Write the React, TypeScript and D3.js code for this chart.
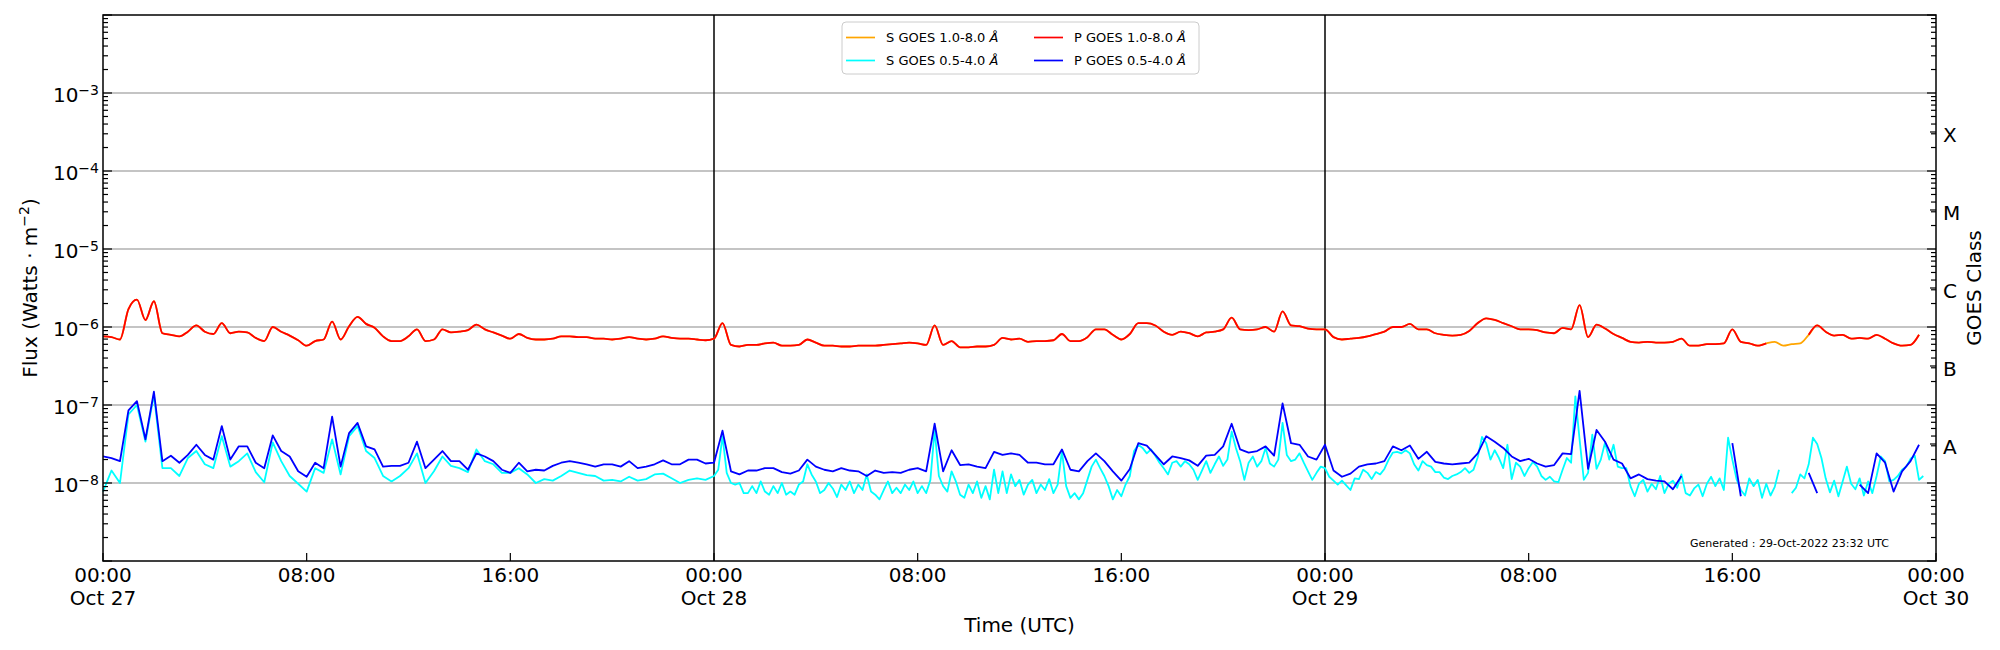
import React, { useEffect, useRef } from 'react'
import * as d3 from 'd3'

// log10 of the flux (W/m^2), starting at 00:00 UTC of each day.
// long channel and primary short channel: one value every 20 minutes
const pLongOct27 = [
    -6.12, -6.13, -6.16, -5.77, -5.65, -5.91, -5.67, -6.08, -6.10, -6.12,
    -6.06, -5.98, -6.06, -6.09, -5.95, -6.08, -6.06, -6.07, -6.14, -6.18,
    -6.00, -6.06, -6.11, -6.17, -6.24, -6.18, -6.16, -5.93, -6.16, -5.99,
    -5.87, -5.96, -6.01, -6.12, -6.18, -6.18, -6.12, -6.03, -6.18, -6.16,
    -6.03, -6.07, -6.06, -6.04, -5.97, -6.03, -6.07, -6.11, -6.15, -6.09,
    -6.14, -6.16, -6.16, -6.15, -6.12, -6.12, -6.13, -6.13, -6.15, -6.15,
    -6.16, -6.15, -6.13, -6.15, -6.16, -6.15, -6.12, -6.14, -6.15, -6.15,
    -6.16, -6.17,
]
const pLongOct28 = [
    -6.15, -5.95, -6.23, -6.25, -6.23, -6.23, -6.21, -6.20, -6.24, -6.24,
    -6.23, -6.16, -6.20, -6.24, -6.24, -6.25, -6.25, -6.24, -6.24, -6.24,
    -6.23, -6.22, -6.21, -6.20, -6.21, -6.23, -5.98, -6.23, -6.18, -6.26,
    -6.26, -6.25, -6.25, -6.23, -6.14, -6.16, -6.15, -6.19, -6.18, -6.18,
    -6.17, -6.09, -6.18, -6.18, -6.13, -6.03, -6.03, -6.10, -6.16, -6.09,
    -5.95, -5.95, -5.98, -6.06, -6.10, -6.06, -6.08, -6.12, -6.07, -6.06,
    -6.03, -5.88, -6.03, -6.04, -6.03, -6.00, -6.06, -5.80, -5.98, -5.99,
    -6.02, -6.03,
]
const pLongOct29 = [
    -6.03, -6.13, -6.16, -6.15, -6.14, -6.12, -6.09, -6.06, -6.00, -6.00,
    -5.96, -6.03, -6.03, -6.08, -6.10, -6.11, -6.10, -6.05, -5.95, -5.89,
    -5.91, -5.95, -5.99, -6.03, -6.03, -6.04, -6.07, -6.08, -6.01, -6.03,
    -5.72, -6.13, -5.97, -6.02, -6.09, -6.14, -6.19, -6.20, -6.19, -6.20,
    -6.20, -6.19, -6.15, -6.24, -6.24, -6.22, -6.22, -6.21, -6.03, -6.19,
    -6.21, -6.24, -6.21, null, null, null, null, -6.10, -5.98, -6.06,
    -6.11, -6.10, -6.15, -6.14, -6.15, -6.10, -6.15, -6.21, -6.24, -6.23,
    -6.10,
]
// secondary 1-8 A follows the primary, except where the primary is missing on Oct 29
const sLongOct29GapStart = 53
const sLongOct29Gap = [-6.19, -6.24, -6.22, -6.21]

const pShortOct27 = [
    -7.66, -7.68, -7.72, -7.07, -6.95, -7.44, -6.83, -7.72, -7.65, -7.74,
    -7.64, -7.51, -7.64, -7.70, -7.27, -7.70, -7.53, -7.53, -7.74, -7.81,
    -7.39, -7.59, -7.66, -7.85, -7.92, -7.74, -7.81, -7.15, -7.79, -7.36,
    -7.23, -7.53, -7.57, -7.79, -7.78, -7.78, -7.74, -7.47, -7.81, -7.70,
    -7.59, -7.72, -7.72, -7.83, -7.62, -7.66, -7.72, -7.83, -7.87, -7.74,
    -7.85, -7.83, -7.84, -7.78, -7.74, -7.72, -7.74, -7.76, -7.79, -7.76,
    -7.76, -7.79, -7.72, -7.81, -7.79, -7.76, -7.71, -7.76, -7.76, -7.70,
    -7.70, -7.75,
]
const pShortOct28 = [
    -7.74, -7.33, -7.85, -7.89, -7.84, -7.84, -7.81, -7.81, -7.86, -7.88,
    -7.84, -7.70, -7.79, -7.83, -7.85, -7.81, -7.84, -7.85, -7.91, -7.84,
    -7.87, -7.86, -7.87, -7.83, -7.81, -7.85, -7.24, -7.85, -7.58, -7.77,
    -7.76, -7.79, -7.81, -7.60, -7.64, -7.62, -7.64, -7.74, -7.74, -7.76,
    -7.76, -7.57, -7.83, -7.85, -7.72, -7.62, -7.72, -7.85, -7.97, -7.82,
    -7.49, -7.52, -7.64, -7.76, -7.66, -7.68, -7.71, -7.78, -7.65, -7.64,
    -7.53, -7.24, -7.57, -7.61, -7.59, -7.53, -7.65, -6.98, -7.49, -7.51,
    -7.66, -7.70,
]
const pShortOct29 = [
    -7.51, -7.84, -7.92, -7.88, -7.79, -7.76, -7.75, -7.72, -7.53, -7.58,
    -7.52, -7.69, -7.60, -7.73, -7.75, -7.76, -7.75, -7.74, -7.62, -7.40,
    -7.47, -7.55, -7.66, -7.72, -7.69, -7.75, -7.79, -7.77, -7.62, -7.63,
    -6.82, -7.82, -7.32, -7.47, -7.70, -7.75, -7.94, -7.89, -7.95, -7.97,
    -7.98, -8.08, -7.91, null, null, null, null, null, -7.49, -8.17,
    null, null, null, null, null, null, null, -7.87, -8.13, null,
    null, null, null, -8.02, -8.13, -7.62, -7.74, -8.11, -7.85, -7.72,
    -7.51,
]

// secondary short channel: every 20 minutes on Oct 27, every 10 minutes after
const sShortOct27 = [
    -8.11, -7.84, -8.00, -7.12, -7.00, -7.47, -6.87, -7.81, -7.81, -7.91,
    -7.68, -7.59, -7.76, -7.81, -7.40, -7.79, -7.72, -7.62, -7.86, -7.99,
    -7.48, -7.72, -7.91, -8.01, -8.11, -7.81, -7.87, -7.44, -7.89, -7.40,
    -7.27, -7.59, -7.68, -7.91, -7.98, -7.91, -7.81, -7.62, -8.00, -7.85,
    -7.66, -7.78, -7.81, -7.86, -7.57, -7.72, -7.76, -7.87, -7.87, -7.81,
    -7.89, -8.00, -7.95, -7.97, -7.91, -7.84, -7.87, -7.90, -7.91, -7.97,
    -7.96, -7.98, -7.92, -7.97, -7.95, -7.89, -7.88, -7.94, -8.00, -7.96,
    -7.94, -7.96,
]
const sShortOct28 = [
    -7.91, -7.83, -7.40, -7.87, -8.00, -8.02, -8.00, -8.13, -8.13, -8.04,
    -8.13, -7.98, -8.11, -8.15, -8.04, -8.13, -8.00, -8.15, -8.11, -8.15,
    -8.02, -7.98, -7.76, -7.89, -7.98, -8.13, -8.09, -8.00, -8.07, -8.18,
    -8.02, -8.09, -7.98, -8.13, -8.02, -8.09, -7.89, -8.11, -8.15, -8.21,
    -8.09, -7.98, -8.13, -8.06, -8.13, -8.02, -8.09, -7.98, -8.13, -8.04,
    -8.13, -7.96, -7.32, -7.91, -8.04, -8.11, -7.85, -7.98, -8.15, -8.19,
    -8.02, -8.13, -7.98, -8.19, -8.04, -8.21, -7.83, -8.13, -7.85, -8.13,
    -7.89, -8.04, -7.96, -8.15, -8.02, -7.96, -8.13, -8.02, -8.09, -7.95,
    -8.13, -8.02, -7.59, -8.04, -8.19, -8.13, -8.21, -8.13, -7.96, -7.79,
    -7.70, -7.81, -7.91, -8.04, -8.21, -8.09, -8.17, -8.02, -7.91, -7.59,
    -7.51, -7.55, -7.62, -7.57, -7.65, -7.74, -7.81, -7.89, -7.74, -7.72,
    -7.79, -7.72, -7.76, -7.83, -7.96, -7.84, -7.72, -7.87, -7.76, -7.66,
    -7.78, -7.70, -7.34, -7.55, -7.72, -7.96, -7.74, -7.66, -7.79, -7.72,
    -7.55, -7.75, -7.79, -7.70, -7.23, -7.64, -7.72, -7.70, -7.62, -7.74,
    -7.85, -7.96, -7.87, -7.79,
]
const sShortOct29 = [
    -7.81, -7.92, -7.97, -8.02, -7.97, -8.03, -8.09, -7.94, -7.95, -7.83,
    -7.87, -7.95, -7.86, -7.89, -7.82, -7.70, -7.61, -7.60, -7.62, -7.58,
    -7.62, -7.76, -7.84, -7.72, -7.77, -7.79, -7.86, -7.86, -7.93, -7.95,
    -7.91, -7.89, -7.86, -7.81, -7.87, -7.83, -7.67, -7.41, -7.49, -7.70,
    -7.58, -7.68, -7.81, -7.51, -7.95, -7.74, -7.79, -7.91, -7.81, -7.73,
    -7.79, -7.91, -7.96, -7.92, -7.98, -7.99, -7.83, -7.68, -7.74, -6.89,
    -7.44, -7.96, -7.87, -7.38, -7.82, -7.70, -7.48, -7.70, -7.51, -7.79,
    -7.81, -7.81, -8.04, -8.17, -8.01, -7.96, -8.11, -8.01, -8.08, -7.91,
    -8.13, -8.01, -7.97, -8.06, -7.89, -8.13, -8.16, -8.07, -8.02, -8.17,
    -8.01, -7.92, -8.04, -7.94, -8.09, -7.42, -7.70, -7.95, -8.09, -8.16,
    -7.94, -8.04, -7.96, -8.19, -8.01, -8.16, -8.05, -7.83, null, null,
    -8.13, -8.06, -7.89, -7.94, -7.76, -7.42, -7.50, -7.68, -7.94, -8.12,
    -7.97, -8.17, -7.98, -7.79, -8.01, -8.08, -7.94, -8.16, -7.98, -8.13,
    -7.91, -7.66, -7.72, -7.98, -7.96, -7.91, -7.83, -7.79, -7.69, -7.65,
    -7.96, -7.91,
]

const legendLabels = [
    { text: 'S GOES 1.0-8.0 ', color: '#ffa500' },
    { text: 'S GOES 0.5-4.0 ', color: '#00ffff' },
    { text: 'P GOES 1.0-8.0 ', color: '#ff0000' },
    { text: 'P GOES 0.5-4.0 ', color: '#0000ff' },
]
const yLabelExps = [-8, -7, -6, -5, -4, -3]
const goesClasses = ['A', 'B', 'C', 'M', 'X']
const goesClassExps = [-7.5, -6.5, -5.5, -4.5, -3.5]
const generatedText = 'Generated : 29-Oct-2022 23:32 UTC'

const MIN = 60 * 1000
const DAY = 24 * 60 * MIN
const T0 = Date.UTC(2022, 9, 27)
const T1 = Date.UTC(2022, 9, 30)
const FONT = '"DejaVu Sans", sans-serif'

type Pt = { t: Date; f: number | null }

// days: list of [values, step in minutes], one per day from Oct 27
const toPoints = (days: [(number | null)[], number][]): Pt[] =>
    days.flatMap(([vals, step], d) =>
        vals.map((v, i) => ({
            t: new Date(T0 + d * DAY + i * step * MIN),
            f: v === null ? null : Math.pow(10, v),
        }))
    )

const GoesChart: React.FC = () => {
    const svgRef = useRef<SVGSVGElement | null>(null)

    useEffect(() => {
        if (!svgRef.current) return
        const width = 2000
        const height = 650
        const left = 103
        const right = 1936
        const top = 15
        const bottom = 561

        const svg = d3.select(svgRef.current)
        svg.selectAll('*').remove()

        const x = d3.scaleUtc().domain([new Date(T0), new Date(T1)]).range([left, right])
        const y = d3.scaleLog().domain([1e-9, 1e-2]).range([bottom, top])

        const sLongOct29 = pLongOct29.map((v, i) => {
            if (v !== null) return v
            const g = sLongOct29Gap[i - sLongOct29GapStart]
            return g === undefined ? null : g
        })

        const pLongPts = toPoints([[pLongOct27, 20], [pLongOct28, 20], [pLongOct29, 20]])
        const sLongPts = toPoints([[pLongOct27, 20], [pLongOct28, 20], [sLongOct29, 20]])
        const pShortPts = toPoints([[pShortOct27, 20], [pShortOct28, 20], [pShortOct29, 20]])
        const sShortPts = toPoints([[sShortOct27, 20], [sShortOct28, 10], [sShortOct29, 10]])

        svg.attr('viewBox', `0 0 ${width} ${height}`)
        svg.append('rect').attr('width', width).attr('height', height).attr('fill', 'white')

        // grid
        yLabelExps.forEach((k) => {
            svg.append('line')
                .attr('x1', left).attr('x2', right)
                .attr('y1', y(Math.pow(10, k))).attr('y2', y(Math.pow(10, k)))
                .attr('stroke', '#b0b0b0').attr('stroke-width', 1.3)
        })

        // day boundaries
        ;[Date.UTC(2022, 9, 28), Date.UTC(2022, 9, 29)].forEach((d) => {
            svg.append('line')
                .attr('x1', x(new Date(d))).attr('x2', x(new Date(d)))
                .attr('y1', top).attr('y2', bottom)
                .attr('stroke', 'black').attr('stroke-width', 1.5)
        })

        const smooth = d3
            .line<Pt>()
            .defined((d) => d.f !== null)
            .x((d) => x(d.t))
            .y((d) => y(d.f as number))
            .curve(d3.curveMonotoneX)
        const straight = d3
            .line<Pt>()
            .defined((d) => d.f !== null)
            .x((d) => x(d.t))
            .y((d) => y(d.f as number))

        const series: [Pt[], string, d3.Line<Pt>][] = [
            [sLongPts, '#ffa500', smooth],
            [sShortPts, '#00ffff', straight],
            [pLongPts, '#ff0000', smooth],
            [pShortPts, '#0000ff', straight],
        ]
        series.forEach(([pts, color, gen]) => {
            svg.append('path')
                .datum(pts)
                .attr('fill', 'none')
                .attr('stroke', color)
                .attr('stroke-width', 1.8)
                .attr('stroke-linejoin', 'round')
                .attr('d', gen)
        })

        // frame
        svg.append('rect')
            .attr('x', left).attr('y', top)
            .attr('width', right - left).attr('height', bottom - top)
            .attr('fill', 'none').attr('stroke', 'black').attr('stroke-width', 1.5)

        // y ticks, inward on both sides
        const ticks = svg.append('g').attr('stroke', 'black').attr('stroke-width', 1.2)
        for (let k = -9; k <= -2; k++) {
            const yy = y(Math.pow(10, k))
            ticks.append('line').attr('x1', left).attr('x2', left + 9).attr('y1', yy).attr('y2', yy)
            ticks.append('line').attr('x1', right).attr('x2', right - 9).attr('y1', yy).attr('y2', yy)
            if (k === -2) continue
            for (let m = 2; m <= 9; m++) {
                const ym = y(m * Math.pow(10, k))
                ticks.append('line').attr('x1', left).attr('x2', left + 5).attr('y1', ym).attr('y2', ym)
                ticks.append('line').attr('x1', right).attr('x2', right - 5).attr('y1', ym).attr('y2', ym)
            }
        }
        goesClassExps.forEach((e) => {
            const yy = y(Math.pow(10, e))
            ticks.append('line').attr('x1', right).attr('x2', right - 6).attr('y1', yy).attr('y2', yy)
        })

        // x ticks
        const xTicks = d3.utcHour.every(8)!.range(new Date(T0), new Date(T1 + 1))
        xTicks.forEach((d) => {
            ticks.append('line')
                .attr('x1', x(d)).attr('x2', x(d))
                .attr('y1', bottom).attr('y2', bottom - 8)
        })

        const txt = svg.append('g').attr('font-family', FONT).attr('fill', 'black')

        xTicks.forEach((d) => {
            txt.append('text')
                .attr('x', x(d)).attr('y', 582)
                .attr('text-anchor', 'middle').attr('font-size', 20)
                .text(d3.utcFormat('%H:%M')(d))
            if (d.getUTCHours() === 0) {
                txt.append('text')
                    .attr('x', x(d)).attr('y', 605)
                    .attr('text-anchor', 'middle').attr('font-size', 20)
                    .text(d3.utcFormat('%b %d')(d))
            }
        })

        yLabelExps.forEach((k) => {
            const t = txt.append('text')
                .attr('x', 99).attr('y', y(Math.pow(10, k)) + 8.7)
                .attr('text-anchor', 'end').attr('font-size', 20)
            t.append('tspan').text('10')
            t.append('tspan').attr('dy', -7).attr('font-size', 14).text(`\u2212${-k}`)
        })

        goesClasses.forEach((c, i) => {
            txt.append('text')
                .attr('x', 1943).attr('y', y(Math.pow(10, goesClassExps[i])) + 9.8)
                .attr('font-size', 20)
                .text(c)
        })

        txt.append('text')
            .attr('transform', `translate(1981,${(top + bottom) / 2}) rotate(-90)`)
            .attr('text-anchor', 'middle').attr('font-size', 20)
            .text('GOES Class')

        const yl = txt.append('text')
            .attr('transform', `translate(37,${(top + bottom) / 2}) rotate(-90)`)
            .attr('text-anchor', 'middle').attr('font-size', 20)
        yl.append('tspan').text('Flux (Watts \u00b7 m')
        yl.append('tspan').attr('dy', -8).attr('font-size', 14).text('\u22122')
        yl.append('tspan').attr('dy', 8).text(')')

        txt.append('text')
            .attr('x', (left + right) / 2).attr('y', 632)
            .attr('text-anchor', 'middle').attr('font-size', 20)
            .text('Time (UTC)')

        txt.append('text')
            .attr('x', 1690).attr('y', 547)
            .attr('font-size', 11)
            .text(generatedText)

        // legend
        const lg = svg.append('g').attr('font-family', FONT)
        lg.append('rect')
            .attr('x', 842).attr('y', 22).attr('width', 357).attr('height', 52).attr('rx', 4)
            .attr('fill', 'white').attr('fill-opacity', 0.8)
            .attr('stroke', '#cccccc').attr('stroke-width', 1)
        legendLabels.forEach((item, i) => {
            const col = Math.floor(i / 2)
            const row = i % 2
            const x0 = 846 + col * 188
            const yy = 37.5 + row * 23
            lg.append('line')
                .attr('x1', x0).attr('x2', x0 + 29).attr('y1', yy).attr('y2', yy)
                .attr('stroke', item.color).attr('stroke-width', 1.7)
            const t = lg.append('text')
                .attr('x', x0 + 40).attr('y', yy + 4.7)
                .attr('font-size', 13).attr('fill', 'black')
            t.append('tspan').text(item.text)
            t.append('tspan').attr('font-style', 'italic').text('\u00c5')
        })
    }, [])

    return <svg ref={svgRef} width={2000} height={650} style={{ display: 'block' }}></svg>
}

export default function App() {
    return (
        <>
            <style>{'body { margin: 0; }'}</style>
            <GoesChart />
        </>
    )
}
